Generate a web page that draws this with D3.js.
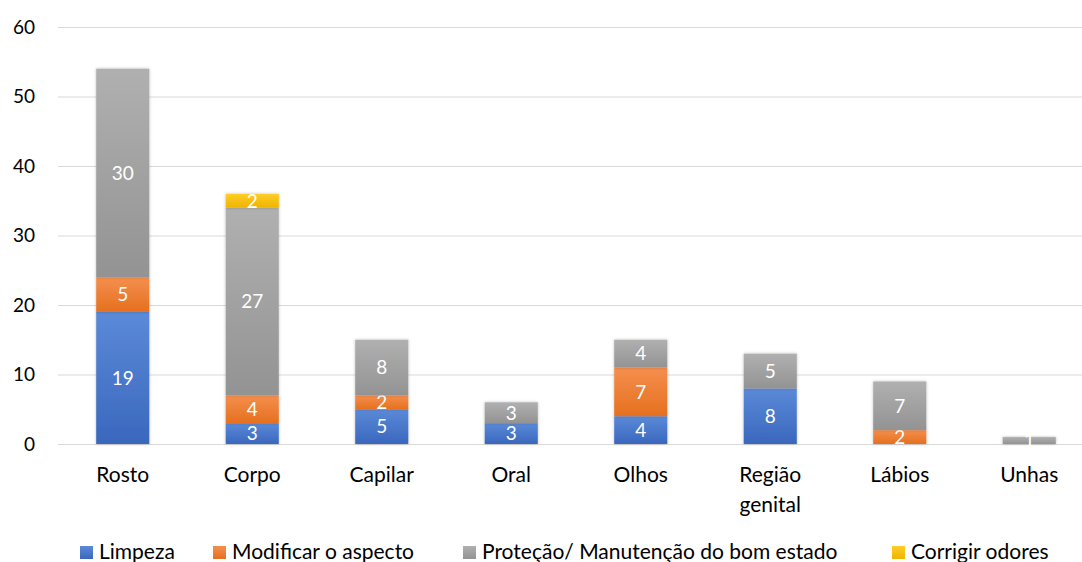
<!DOCTYPE html>
<html lang="pt">
  <head>
    <script src="https://d3js.org/d3.v7.min.js"></script>
    <meta charset="utf-8">
    <style>
      body { margin: 0; background: #fff; }
      svg text { font-family: Lato, "Open Sans", sans-serif; fill: #000; }
      .grid line { stroke: #d9d9d9; stroke-width: 1; }
      .lbl { fill: #fff; font-size: 19px; }
    </style>
    <title></title>
  </head>
  <body>
    <svg id="chart" width="1082" height="562"></svg>
  </body>
</html>

<script>
    const categories = ["Rosto", "Corpo", "Capilar", "Oral", "Olhos", "Região genital", "Lábios", "Unhas"];
    const series = ["Limpeza", "Modificar o aspecto", "Proteção/ Manutenção do bom estado", "Corrigir odores"];
    const limpeza = [19, 3, 5, 3, 4, 8, 0, 0];
    const modificar = [5, 4, 2, 0, 7, 0, 2, 0];
    const protecao = [30, 27, 8, 3, 4, 5, 7, 1];
    const corrigir = [0, 2, 0, 0, 0, 0, 0, 0];
    const yTicks = [0, 10, 20, 30, 40, 50, 60];

    const colors = [
        ["#5b8ad8", "#3a67bd"],
        ["#f58f4e", "#e5701f"],
        ["#b0b0b0", "#939393"],
        ["#ffcd2a", "#eeb400"]
    ];

    const svg = d3.select("#chart");

    const x = d3.scaleBand().domain(categories).range([58, 1094]);
    const y = d3.scaleLinear().domain([0, 60]).range([444, 27]);
    const barW = x.bandwidth() * 0.41;

    // gradientes
    const defs = svg.append("defs");
    colors.forEach((c, i) => {
        const g = defs.append("linearGradient")
            .attr("id", "g" + i)
            .attr("x1", 0).attr("y1", 0).attr("x2", 0).attr("y2", 1);
        g.append("stop").attr("offset", "0%").attr("stop-color", c[0]);
        g.append("stop").attr("offset", "100%").attr("stop-color", c[1]);
    });
    const f = defs.append("filter").attr("id", "shadow")
        .attr("x", "-20%").attr("y", "-20%").attr("width", "140%").attr("height", "140%");
    f.append("feDropShadow").attr("dx", 0).attr("dy", 0).attr("stdDeviation", 1.5)
        .attr("flood-color", "#000").attr("flood-opacity", 0.25);

    // linhas de grade
    svg.append("g").attr("class", "grid")
        .selectAll("line")
        .data(yTicks)
        .enter().append("line")
        .attr("x1", 58).attr("x2", 1082)
        .attr("y1", d => y(d) + 0.5).attr("y2", d => y(d) + 0.5);

    svg.append("g")
        .selectAll("text")
        .data(yTicks)
        .enter().append("text")
        .attr("x", 35).attr("y", d => y(d))
        .attr("dy", "0.35em")
        .attr("text-anchor", "end")
        .attr("font-size", 19)
        .text(d => d);

    const rows = categories.map((c, i) => ({
        cat: c,
        s0: limpeza[i], s1: modificar[i], s2: protecao[i], s3: corrigir[i]
    }));
    const stacked = d3.stack().keys(["s0", "s1", "s2", "s3"])(rows);

    const layer = svg.append("g")
        .selectAll("g")
        .data(stacked)
        .enter().append("g")
        .attr("fill", (d, i) => "url(#g" + i + ")");

    layer.selectAll("rect")
        .data(d => d.filter(p => p[1] - p[0] > 0))
        .enter().append("rect")
        .attr("x", d => x(d.data.cat) + (x.bandwidth() - barW) / 2)
        .attr("width", barW)
        .attr("y", d => y(d[1]))
        .attr("height", d => y(d[0]) - y(d[1]))
        .attr("filter", "url(#shadow)");

    layer.selectAll("text")
        .data(d => d.filter(p => p[1] - p[0] > 0))
        .enter().append("text")
        .attr("class", "lbl")
        .attr("x", d => x(d.data.cat) + x.bandwidth() / 2)
        .attr("y", d => y((d[0] + d[1]) / 2))
        .attr("dy", "0.36em")
        .attr("text-anchor", "middle")
        .text(d => d[1] - d[0]);

    // rótulos das categorias
    const cats = svg.append("g")
        .selectAll("text")
        .data(categories)
        .enter().append("text")
        .attr("x", d => x(d) + x.bandwidth() / 2)
        .attr("y", 482)
        .attr("text-anchor", "middle")
        .attr("font-size", 21);
    cats.each(function (d) {
        const words = d === "Região genital" ? ["Região", "genital"] : [d];
        words.forEach((w, k) => {
            d3.select(this).append("tspan")
                .attr("x", x(d) + x.bandwidth() / 2)
                .attr("dy", k === 0 ? 0 : 30)
                .text(w);
        });
    });

    // legenda
    const legendX = [80, 213, 463, 892];
    const leg = svg.append("g")
        .selectAll("g")
        .data(series)
        .enter().append("g")
        .attr("transform", (d, i) => "translate(" + legendX[i] + ",0)");
    leg.append("rect")
        .attr("x", 0).attr("y", 546).attr("width", 13).attr("height", 13)
        .attr("fill", (d, i) => "url(#g" + i + ")");
    leg.append("text")
        .attr("x", 19).attr("y", 559)
        .attr("font-size", 21)
        .text(d => d);
</script>
